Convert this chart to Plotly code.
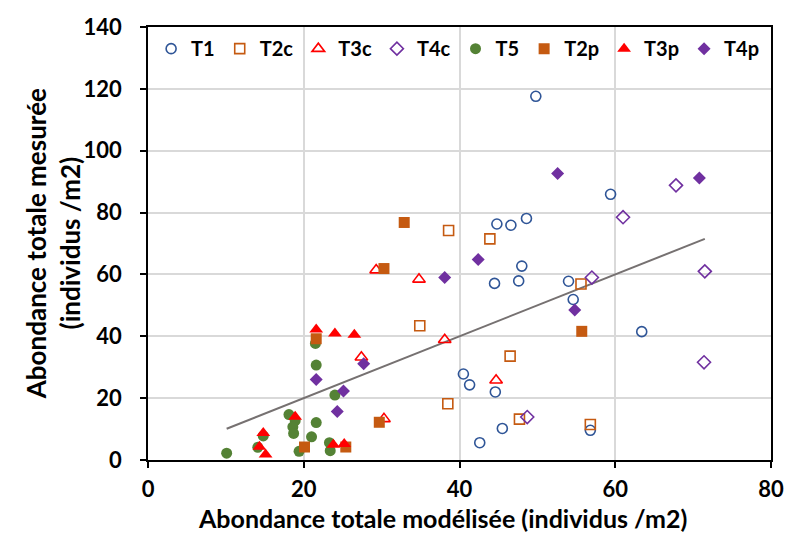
import numpy as np
import plotly.graph_objects as go

# ---- data (x = modelled, y = measured) ----
t1_x = [49.8, 59.4, 44.8, 46.6, 48.6, 48.0, 47.6, 44.5, 54.0, 54.6, 63.4, 40.5, 41.3, 44.6, 45.5, 42.6, 56.8]
t1_y = [117.6, 85.9, 76.3, 75.9, 78.1, 62.7, 57.9, 57.1, 57.8, 51.9, 41.5, 27.8, 24.3, 22.0, 10.2, 5.6, 9.6]

t2c_x = [38.6, 43.9, 34.9, 55.6, 46.5, 38.5, 47.7, 56.8]
t2c_y = [74.2, 71.5, 43.4, 56.9, 33.6, 18.2, 13.2, 11.5]

t3c_x = [29.3, 34.8, 38.1, 27.4, 30.3, 44.7]
t3c_y = [61.4, 58.4, 38.9, 33.2, 13.3, 25.8]

t4c_x = [67.8, 61.0, 57.0, 71.5, 71.4, 48.7]
t4c_y = [88.8, 78.5, 59.0, 61.0, 31.6, 13.9]

t5_x = [10.1, 14.1, 14.8, 18.1, 18.9, 18.6, 18.7, 19.4, 21.5, 21.6, 24.0, 21.6, 21.0, 23.3, 23.4]
t5_y = [2.2, 4.1, 7.8, 14.7, 12.7, 10.7, 8.6, 2.8, 37.7, 30.7, 21.0, 12.1, 7.5, 5.6, 3.0]

t2p_x = [32.9, 30.3, 21.6, 29.7, 20.1, 25.4, 55.7]
t2p_y = [76.8, 61.9, 39.2, 12.2, 4.2, 4.2, 41.6]

t3p_x = [21.6, 24.0, 26.5, 18.9, 14.8, 14.3, 15.1, 23.8, 25.2]
t3p_y = [42.2, 40.9, 40.5, 14.0, 8.7, 4.3, 1.8, 4.9, 5.2]

t4p_x = [52.6, 70.8, 54.8, 38.1, 42.4, 21.6, 25.1, 27.7, 24.3]
t4p_y = [92.6, 91.2, 48.5, 59.0, 64.8, 26.0, 22.3, 31.1, 15.7]

x_ticks = [0, 20, 40, 60, 80]
y_ticks = [0, 20, 40, 60, 80, 100, 120, 140]

FONT = "Lato"

series = [
    ("T1", t1_x, t1_y, "circle-open", "#2F5597", 10),
    ("T2c", t2c_x, t2c_y, "square-open", "#C55A11", 10),
    ("T3c", t3c_x, t3c_y, "triangle-up-open", "#FF0000", 11),
    ("T4c", t4c_x, t4c_y, "diamond-open", "#7030A0", 10),
    ("T5", t5_x, t5_y, "circle", "#548235", 11),
    ("T2p", t2p_x, t2p_y, "square", "#C55A11", 11),
    ("T3p", t3p_x, t3p_y, "triangle-up", "#FF0000", 12),
    ("T4p", t4p_x, t4p_y, "diamond", "#7030A0", 10),
]

fig = go.Figure()

# 1:1 reference line spanning the range of modelled values
all_x = np.concatenate([np.array(s[1]) for s in series])
tx = np.array([all_x.min(), all_x.max()])
fig.add_trace(go.Scatter(x=tx, y=tx, mode="lines",
                         line=dict(color="#767171", width=2), showlegend=False,
                         hoverinfo="skip"))

for name, xs, ys, sym, col, sz in series:
    fig.add_trace(go.Scatter(
        x=xs, y=ys, mode="markers", name=name,
        marker=dict(symbol=sym, size=sz, color=col,
                    line=dict(color=col, width=1.6 if "open" in sym else 0)),
    ))

axis_common = dict(
    showline=True, linecolor="black", linewidth=1.5, mirror=True,
    showgrid=True, gridcolor="#D9D9D9", gridwidth=1.5,
    ticks="outside", ticklen=6, tickcolor="black", tickwidth=1.5,
    tickfont=dict(family=FONT, size=22, color="black", weight="bold"),
    zeroline=False,
)

fig.update_xaxes(range=[0, 80], tickvals=x_ticks, ticklabelstandoff=3, **axis_common)
fig.update_yaxes(range=[0, 140], tickvals=y_ticks, ticklabelstandoff=14, **axis_common)

fig.update_layout(
    width=796, height=533,
    margin=dict(l=148, r=15, t=27, b=73),
    plot_bgcolor="white", paper_bgcolor="white",
    font=dict(family=FONT, color="black"),
    legend=dict(orientation="h", x=0.005, y=0.995, xanchor="left", yanchor="top",
                font=dict(family=FONT, size=20, color="black", weight="bold"),
                bgcolor="rgba(255,255,255,0)", itemwidth=30, tracegroupgap=0),
    annotations=[
        dict(text="Abondance totale modélisée (individus /m2)", xref="paper", yref="paper",
             x=0.473, y=-0.134, xanchor="center", yanchor="middle", showarrow=False,
             font=dict(family=FONT, size=25, color="black", weight="bold")),
        dict(text="Abondance totale mesurée<br>(individus /m2)", xref="paper", yref="paper",
             x=-0.153, y=0.5, xanchor="center", yanchor="middle", showarrow=False, textangle=-90,
             font=dict(family=FONT, size=26, color="black", weight="bold")),
    ],
)

fig.write_html("out.html")
